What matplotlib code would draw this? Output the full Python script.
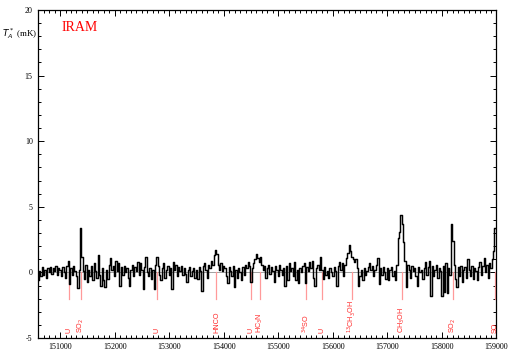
import numpy as np
import matplotlib
matplotlib.use("Agg")
import matplotlib.pyplot as plt
from matplotlib.ticker import MultipleLocator
import matplotlib.transforms as mtransforms

# spectrum: channel start / width (MHz) and antenna temperature (mK)
freq_start = 150600
chan_width = 25
tmb = [
    # 150600 - 151675
    -0.6, 0.1, -0.3, 0.4, -0.2, 0.2, -0.4, 0.3, 0.0, 0.4, -0.1, 0.3, 0.1, 0.5, -0.2, 0.3,
    0.2, -0.3, 0.4, 0.0, -0.4, 0.5, 0.9, -0.9, 0.3, -0.2, 0.5, 0.1, -0.3, -1.2, 0.2, 3.4,
    1.2, 0.1, -0.5, 0.6, -0.7, 0.2, -0.3, 0.5, -0.6, 0.7, 0.1, -0.4,
    # 151700 - 152775
    1.3, -0.2, -1.0, 0.3, -0.6, -1.1, 0.2, -0.5, 0.6, 1.1, 0.2, 0.5, -0.3, 0.9, 0.1, 0.7,
    -1.0, 0.4, -0.2, 0.5, 0.0, 0.3, -0.4, -1.0, 0.2, 0.6, -0.3, 0.4, 0.1, 0.8, -0.2, 0.7,
    0.2, -1.3, 0.4, 1.2, 0.0, -0.3, 0.3, -0.5, 0.2, -1.3, 0.6, 1.2,
    # 152800 - 153775
    0.5, -0.2, -0.6, 0.3, 0.7, -0.4, 0.2, 0.5, -0.2, 0.3, -1.3, 0.8, 0.2, 0.6, -0.3, 0.4,
    0.1, 0.5, -0.2, 0.3, -0.1, -0.7, 0.2, 0.4, -0.3, 0.1, 0.3, -0.4, 0.2, -0.5, 0.4, 0.1,
    -1.4, 0.5, 0.7, 0.2, -0.4, 0.6, 0.3, 0.9,
    # 153800 - 154775
    0.6, 1.3, 1.7, 1.4, 0.6, 0.2, 0.7, 0.1, 0.5, 0.3, -0.3, -0.8, 0.4, 0.1, -0.3, 0.5,
    -1.1, 0.2, -0.4, 0.3, 0.0, -0.6, 0.4, -0.2, 0.6, 0.3, 0.8, 0.5, -0.7, 0.3, 0.7, 1.0,
    1.4, 1.1, 0.8, 1.2, 0.6, 0.2, 0.5, -0.4,
    # 154800 - 155775
    0.3, 0.6, -0.1, 0.4, 0.1, -0.7, 0.5, 0.2, -0.3, 0.6, 0.2, -0.2, 0.3, -1.0, 0.5, -0.6,
    0.7, 0.1, 0.3, -0.3, 0.8, -0.6, 0.2, -0.8, 0.3, 0.0, 0.5, 0.7, -0.8, 0.4, 0.1, 0.8,
    0.3, 0.9, -0.4, -1.0, 0.3, 0.6, 0.2, 1.2,
    # 155800 - 156775
    0.2, -0.5, 0.4, -0.2, 0.1, -0.4, 0.3, 0.0, -0.3, 0.4, 0.1, -1.0, 0.5, 0.8, 0.2, 0.7,
    -0.3, 0.6, 1.1, 1.5, 2.1, 1.6, 1.2, 1.0, 0.8, 1.0, 0.3, -1.0, -0.3, 0.2, -0.6, 0.3,
    -0.2, 0.1, 0.4, 0.7, 0.2, 0.5, -0.3, 0.2,
    # 156800 - 157775
    0.6, 1.1, -0.9, 0.3, -0.2, 0.4, 0.0, -0.5, 0.3, -0.6, 0.2, 0.4, -0.3, 0.1, -0.6, 0.6,
    2.6, 3.1, 4.4, 3.7, 2.3, 0.9, -1.1, 0.6, 0.2, -0.4, 0.5, 0.1, 0.3, -0.3, -1.0, 0.4,
    0.0, 0.2, -0.5, 0.3, 0.8, -0.2, 0.4, 0.9,
    # 157800 - 158975
    -1.8, 0.5, -0.3, 0.2, 0.6, -0.4, 0.3, 0.1, -1.8, 0.5, -1.5, 0.7, -1.6, 0.3, -0.2, 3.7,
    2.4, 0.6, -0.5, -1.1, 0.4, -0.3, 0.5, -0.7, 0.2, 0.4, -0.4, 1.0, 0.2, -0.3, 0.5, -0.5,
    0.3, 0.1, -0.6, 0.4, 0.8, -0.2, 0.5, 1.1, 0.0, 0.6, -0.4, 0.7, 0.3, 1.0, 1.6, 3.4,
]

# line identifications
line_freqs = [151163, 151378, 152781, 153865, 154492, 154657, 155506, 155805,
              156355, 157270, 158199, 158975]
line_labels = ["U", "SO$_2$", "U", "HNCO", "U", "HC$_3$N", "$^{34}$SO", "U",
               "$^{13}$CH$_3$OH", "CH$_3$OH", "SO$_2$", "SO"]

plt.rcParams["axes.unicode_minus"] = False
plt.rcParams["font.family"] = "Liberation Serif"

freq = freq_start + chan_width * np.arange(len(tmb))

fig = plt.figure(figsize=(5.09, 3.56), dpi=100)
ax = fig.add_axes([0.0752, 0.0506, 0.9002, 0.9213])

ax.axhline(0, color="#909090", lw=0.6, zorder=1)
ax.plot(freq, tmb, drawstyle="steps-mid", color="black", lw=1.05, zorder=3)

for f, lab in zip(line_freqs, line_labels):
    ax.plot([f, f], [0, -2], color="#ff9a9a", lw=0.9, zorder=2)
    ax.text(f, -4.6, lab, rotation=90, ha="center", va="bottom", color="#ff2a2a",
            fontsize=5.2, family="Liberation Sans")

ax.text(151020, 18.7, "IRAM", color="red", fontsize=10, va="center", ha="left")

trans = mtransforms.blended_transform_factory(ax.transAxes, ax.transData)
ax.text(-0.003, 18.2, r"$T_A^*$ (mK)", transform=trans, ha="right", va="center",
        fontsize=6.5)

ax.set_xlim(150600, 159000)
ax.set_ylim(-5, 20)
ax.xaxis.set_major_locator(MultipleLocator(1000))
ax.xaxis.set_minor_locator(MultipleLocator(100))
ax.yaxis.set_major_locator(MultipleLocator(5))
ax.yaxis.set_minor_locator(MultipleLocator(1))
ax.tick_params(which="both", direction="in", top=True, right=True, width=0.7,
               labelsize=5.8)
ax.tick_params(which="major", length=4)
ax.tick_params(which="minor", length=2)
ax.tick_params(axis="x", pad=3.5)
ax.tick_params(axis="y", pad=4)
for s in ax.spines.values():
    s.set_linewidth(0.9)

fig.savefig("out.png", dpi=100)
